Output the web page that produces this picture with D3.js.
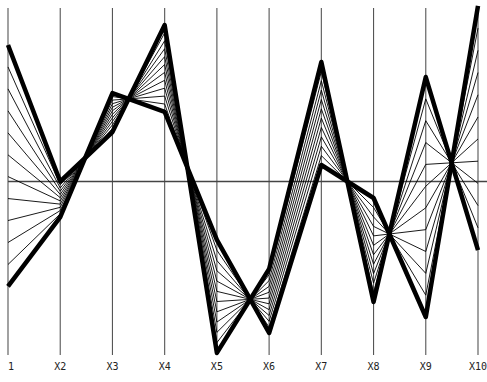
<!DOCTYPE html>
<html>
<head>
<meta charset="utf-8">
<script src="https://cdn.jsdelivr.net/npm/d3@7/dist/d3.min.js"></script>
<style>
  html, body { margin: 0; padding: 0; background: #fff; }
  svg { display: block; }
</style>
</head>
<body>
<svg id="chart" width="487" height="382"></svg>
<script>
// ---- data ----
const categories = ["X1", "X2", "X3", "X4", "X5", "X6", "X7", "X8", "X9", "X10"];
const tickLabels = ["X1", "X2", "X3", "X4", "X5", "X6", "X7", "X8", "X9", "X10"];
// the two bold polylines (points P and Q)
const seriesA = [0.787, 0.0, 0.285, 0.902, -0.988, -0.504, 0.689, -0.695, 0.602, -0.395];
const seriesB = [-0.605, -0.205, 0.510, 0.401, -0.337, -0.873, 0.095, -0.095, -0.781, 1.012];
// positions of the thin polylines along the line from A to B (read from spacing on X1)
const mixWeights = [0.091, 0.182, 0.273, 0.364, 0.455, 0.545, 0.636, 0.727, 0.818, 0.909];

// ---- layout ----
const svg = d3.select("#chart");
const W = 487, H = 382;
const x = d3.scalePoint().domain(categories).range([8, 478]);
const y = d3.scaleLinear().domain([-1, 1]).range([355, 8]);

const line = d3.line()
  .x((d, i) => x(categories[i]))
  .y(d => y(d));

// axes (vertical lines)
svg.append("g").selectAll("line.axis")
  .data(categories).join("line")
  .attr("x1", d => x(d)).attr("x2", d => x(d))
  .attr("y1", y(1)).attr("y2", y(-1))
  .attr("stroke", "#555").attr("stroke-width", 1.1);

// zero line
svg.append("line")
  .attr("x1", x(categories[0])).attr("x2", W)
  .attr("y1", y(0)).attr("y2", y(0))
  .attr("stroke", "#444").attr("stroke-width", 1.5);

// thin polylines
const thin = mixWeights.map(t => seriesA.map((a, i) => a + t * (seriesB[i] - a)));
svg.append("g").selectAll("path")
  .data(thin).join("path")
  .attr("d", line)
  .attr("fill", "none")
  .attr("stroke", "#000")
  .attr("stroke-width", 0.9);

// bold polylines
svg.append("g").selectAll("path")
  .data([seriesA, seriesB]).join("path")
  .attr("d", line)
  .attr("fill", "none")
  .attr("stroke", "#000")
  .attr("stroke-width", 4.5)
  .attr("stroke-linejoin", "round");

// labels (figure is cropped at the left edge)
svg.append("clipPath").attr("id", "labclip")
  .append("rect").attr("x", 8).attr("y", 0).attr("width", W).attr("height", H);
svg.append("g").attr("clip-path", "url(#labclip)")
  .selectAll("text")
  .data(categories).join("text")
  .attr("x", d => x(d))
  .attr("y", 370)
  .attr("text-anchor", "middle")
  .attr("font-family", "DejaVu Sans Mono, monospace")
  .attr("font-size", 10)
  .attr("fill", "#222")
  .text((d, i) => tickLabels[i]);
</script>
</body>
</html>
